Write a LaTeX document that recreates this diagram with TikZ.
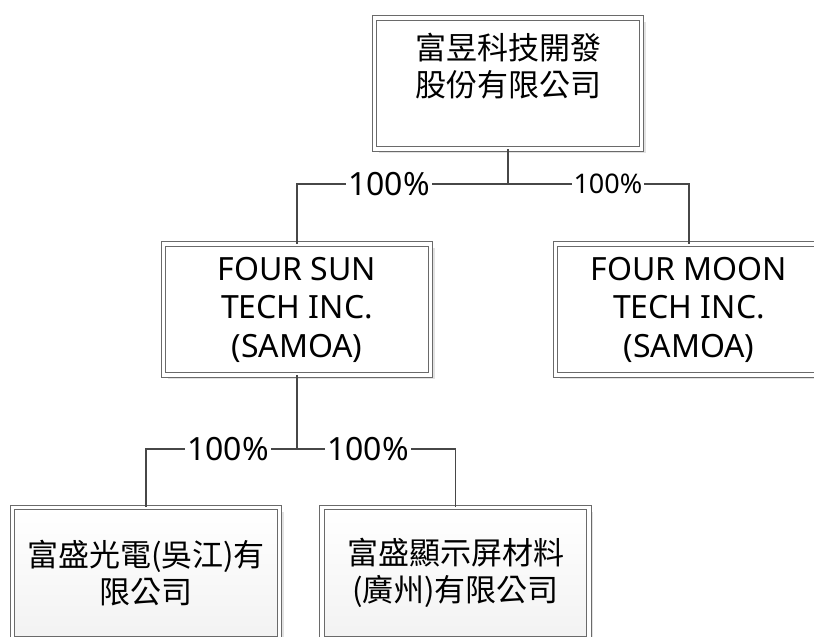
\documentclass[tikz,border=0pt]{standalone}
\usepackage{fontspec}
\setmainfont{Noto Sans}
\newfontfamily\cjk{Noto Sans CJK TC}
\usetikzlibrary{shadows}
\definecolor{boxline}{HTML}{6A6A6A}
\definecolor{connline}{HTML}{474747}
\definecolor{shadowgray}{HTML}{E2E2E2}
\tikzset{
  orgbox/.style={draw=boxline, line width=0.9pt, double=white, double distance=3.6pt,
    minimum width=267pt, minimum height=131pt, inner sep=0pt, align=center, fill=white,
    drop shadow={shadow xshift=4pt, shadow yshift=-4pt, fill=shadowgray, opacity=1}},
  latintext/.style={font=\fontsize{32}{38.5}\selectfont},
  cjktext/.style={font=\cjk\fontsize{31}{37}\selectfont},
  shadedbox/.style={top color=white, middle color=white, bottom color=black!5},
  conn/.style={draw=connline, line width=1.6pt},
  pct/.style={fill=white, inner xsep=2pt, inner ysep=0pt, font=\fontsize{32}{36}\selectfont},
  pctsmall/.style={fill=white, inner xsep=2pt, inner ysep=0pt, font=\fontsize{27}{30}\selectfont}
}
\begin{document}
\begin{tikzpicture}[x=1pt,y=-1pt]
\useasboundingbox (0,0) rectangle (814,637);
\clip (0,0) rectangle (814,637);
\fill[white] (0,0) rectangle (814,637);

\node[orgbox, cjktext] (top) at (508,83.5) {富昱科技開發\\股份有限公司\\~};
\node[orgbox, latintext] (ml) at (297,309.5) {FOUR SUN\\TECH INC.\\(SAMOA)};
\node[orgbox, latintext] (mr) at (689,309.5) {FOUR MOON\\TECH INC.\\(SAMOA)};
\node[orgbox, shadedbox, cjktext] (bl) at (146,573) {富盛光電(吳江)有\\限公司};
\node[orgbox, shadedbox, cjktext] (br) at (455.5,573) {富盛顯示屏材料\\(廣州)有限公司};

\coordinate (j1) at (508,184);
\coordinate (j2) at (297,449);

\draw[conn] (top.south) -- (j1);
\draw[conn] (j1) -- node[pct, pos=0.564] {100\%} (j1 -| ml.north) -- (ml.north);
\draw[conn] (j1) -- node[pctsmall, pos=0.552] {100\%} (j1 -| mr.north) -- (mr.north);

\draw[conn] (ml.south) -- (j2);
\draw[conn] (j2) -- node[pct, pos=0.457] {100\%} (j2 -| bl.north) -- (bl.north);
\draw[conn] (j2) -- node[pct, pos=0.447] {100\%} (j2 -| br.north) -- (br.north);
\end{tikzpicture}
\end{document}
